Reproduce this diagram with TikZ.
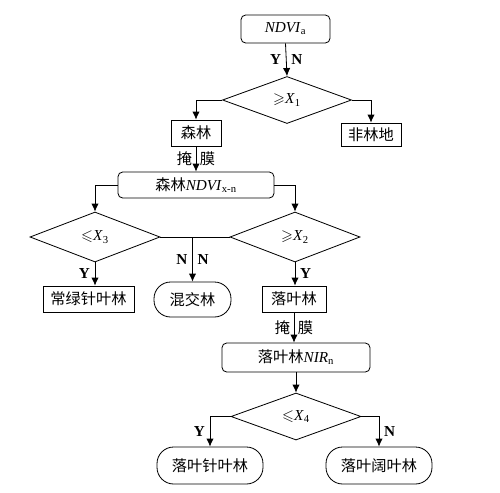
\documentclass[tikz,border=0pt]{standalone}
\usepackage{amsmath,amssymb}
\usepackage{fontspec}
\setmainfont{Liberation Serif}
\newfontfamily\cjk{Noto Sans CJK SC}
\usepackage{tikz}
\usetikzlibrary{shapes,arrows,arrows.meta,positioning,calc}

\begin{document}
\begin{tikzpicture}[x=0.03cm, y=-0.03cm,
  font=\fontsize{13}{15}\selectfont, line width=0.7pt,
  box/.style={draw, rectangle, inner sep=0pt, text centered},
  rbox/.style={draw, rectangle, rounded corners=4pt, inner sep=0pt, text centered},
  term/.style={draw, rectangle, rounded corners=0.5cm, inner sep=0pt, text centered},
  dec/.style={draw, diamond, inner sep=0pt, text centered},
  lbl/.style={font=\fontsize{13}{15}\selectfont\bfseries, inner sep=4pt},
  msk/.style={inner sep=3pt},
  flow/.style={-{Latex[length=2.4mm, width=2.2mm]}}
]
\useasboundingbox (0,0) rectangle (500,492);

% ======= top part =======
\node[rbox, minimum width=2.67cm, minimum height=0.84cm] (ndvi) at (285.5,29) {\textit{NDVI}\textsubscript{a}};
\node[dec, minimum width=3.87cm, minimum height=1.41cm] (d1) at (287,100) {\(\geqslant\)\textit{X}\textsubscript{1}};
\node[box, minimum width=1.5cm, minimum height=0.78cm] (forest) at (196,133) {\cjk 森林};
\node[box, minimum width=1.8cm, minimum height=0.69cm] (nonforest) at (371,134.5) {\cjk 非林地};

% ======= forest split =======
\node[rbox, minimum width=4.68cm, minimum height=0.78cm] (ndvixn) at (196,185) {{\cjk 森林}\textit{NDVI}\textsubscript{x-n}};
\node[dec, minimum width=3.9cm, minimum height=1.5cm] (d3) at (95,237) {\(\leqslant\)\textit{X}\textsubscript{3}};
\node[dec, minimum width=3.9cm, minimum height=1.5cm] (d2) at (295,237) {\(\geqslant\)\textit{X}\textsubscript{2}};
\node[box, minimum width=2.73cm, minimum height=0.78cm] (evergreen) at (88.5,299) {\cjk 常绿针叶林};
\node[term, minimum width=2.31cm, minimum height=1.05cm] (mixed) at (192.5,299.5) {\cjk 混交林};
\node[box, minimum width=1.92cm, minimum height=0.78cm] (decid) at (294,299) {\cjk 落叶林};

% ======= deciduous split =======
\node[rbox, minimum width=4.44cm, minimum height=0.87cm] (nir) at (296,357.5) {{\cjk 落叶林}\textit{NIR}\textsubscript{n}};
\node[dec, minimum width=3.9cm, minimum height=1.41cm] (d4) at (296,416.5) {\(\leqslant\)\textit{X}\textsubscript{4}};
\node[term, minimum width=3.18cm, minimum height=1.11cm] (dneedle) at (210,465.5) {\cjk 落叶针叶林};
\node[term, minimum width=3.18cm, minimum height=1.11cm] (dbroad) at (379,465.5) {\cjk 落叶阔叶林};

% ======= connectors =======
\draw[flow] (ndvi.south) -- node[lbl, left]{Y} node[lbl, right]{N} (d1.north);
\draw[flow] (d1.west) -| (forest.north);
\draw[flow] (d1.east) -| (nonforest.north);
\draw[flow] (forest.south) -- node[msk, left]{\cjk 掩} node[msk, right]{\cjk 膜} (ndvixn.north);
\draw[flow] (ndvixn.west) -| (d3.north);
\draw[flow] (ndvixn.east) -| (d2.north);

\coordinate (mid) at (mixed.north |- d3.east);
\draw (d3.east) -- (d2.west);
\draw[flow] (mid) -- node[lbl, left]{N} node[lbl, right]{N} (mixed.north);
\draw[flow] (d3.south) -- node[lbl, left]{Y} (d3.south |- evergreen.north);
\draw[flow] (d2.south) -- node[lbl, right]{Y} (d2.south |- decid.north);
\draw[flow] (decid.south) -- node[msk, left]{\cjk 掩} node[msk, right]{\cjk 膜} (decid.south |- nir.north);
\draw[flow] (nir.south) -- (d4.north);
\draw[flow] (d4.west) -| node[lbl, pos=0.75, left]{Y} (dneedle.north);
\draw[flow] (d4.east) -| node[lbl, pos=0.75, right]{N} (dbroad.north);

\end{tikzpicture}
\end{document}
